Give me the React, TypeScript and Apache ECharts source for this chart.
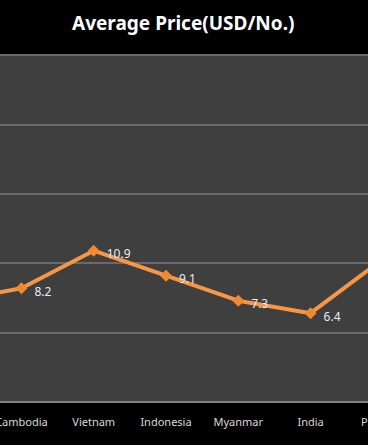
import React, { useEffect, useRef } from "react";
import * as echarts from "echarts";

const categories = ["Bangladesh", "Cambodia", "Vietnam", "Indonesia", "Myanmar", "India", "Pakistan"];
const prices = [7.2, 8.2, 10.9, 9.1, 7.3, 6.4, 10.3];
const titleText = "Average Price(USD/No.)";

export default function App() {
  const ref = useRef<HTMLDivElement>(null);
  useEffect(() => {
    if (!ref.current) return;
    const chart = echarts.init(ref.current, undefined, { renderer: "svg" });
    chart.setOption({
      animation: false,
      backgroundColor: "#000000",
      graphic: [
        {
          type: "text",
          left: 159,
          top: 13,
          style: {
            text: titleText,
            fill: "#ffffff",
            font: "bold 19px 'Noto Sans'",
          },
        },
      ],
      grid: {
        left: 0,
        right: 0,
        top: 55,
        bottom: 43,
        show: true,
        backgroundColor: "#3f3f3f",
        borderWidth: 0,
      },
      xAxis: {
        type: "category",
        data: categories,
        boundaryGap: true,
        axisLine: { show: true, lineStyle: { color: "#808080", width: 2 } },
        axisTick: { show: false },
        axisLabel: {
          interval: 0,
          color: "#d9d9d9",
          fontSize: 11,
          fontFamily: "'Noto Sans'",
          margin: 14,
        },
      },
      yAxis: {
        type: "value",
        min: 0,
        max: 25,
        interval: 5,
        axisLabel: { show: false },
        axisLine: { show: false },
        axisTick: { show: false },
        splitLine: { lineStyle: { color: "#6a6a6a", width: 2 } },
      },
      series: [
        {
          type: "line",
          data: prices,
          symbol: "diamond",
          symbolSize: 12,
          lineStyle: { color: "#f79646", width: 4 },
          itemStyle: { color: "#f08a30" },
          label: {
            show: true,
            position: "right",
            offset: [2, 3],
            color: "#e4ecf4",
            fontSize: 12,
            fontFamily: "'Noto Sans'",
          },
        },
      ],
    });
    return () => chart.dispose();
  }, []);
  return (
    <div
      style={{
        position: "fixed",
        left: 0,
        top: 0,
        width: 368,
        height: 445,
        overflow: "hidden",
        background: "#000",
      }}
    >
      <div ref={ref} style={{ position: "absolute", left: -87, top: 0, width: 506, height: 445 }} />
    </div>
  );
}
